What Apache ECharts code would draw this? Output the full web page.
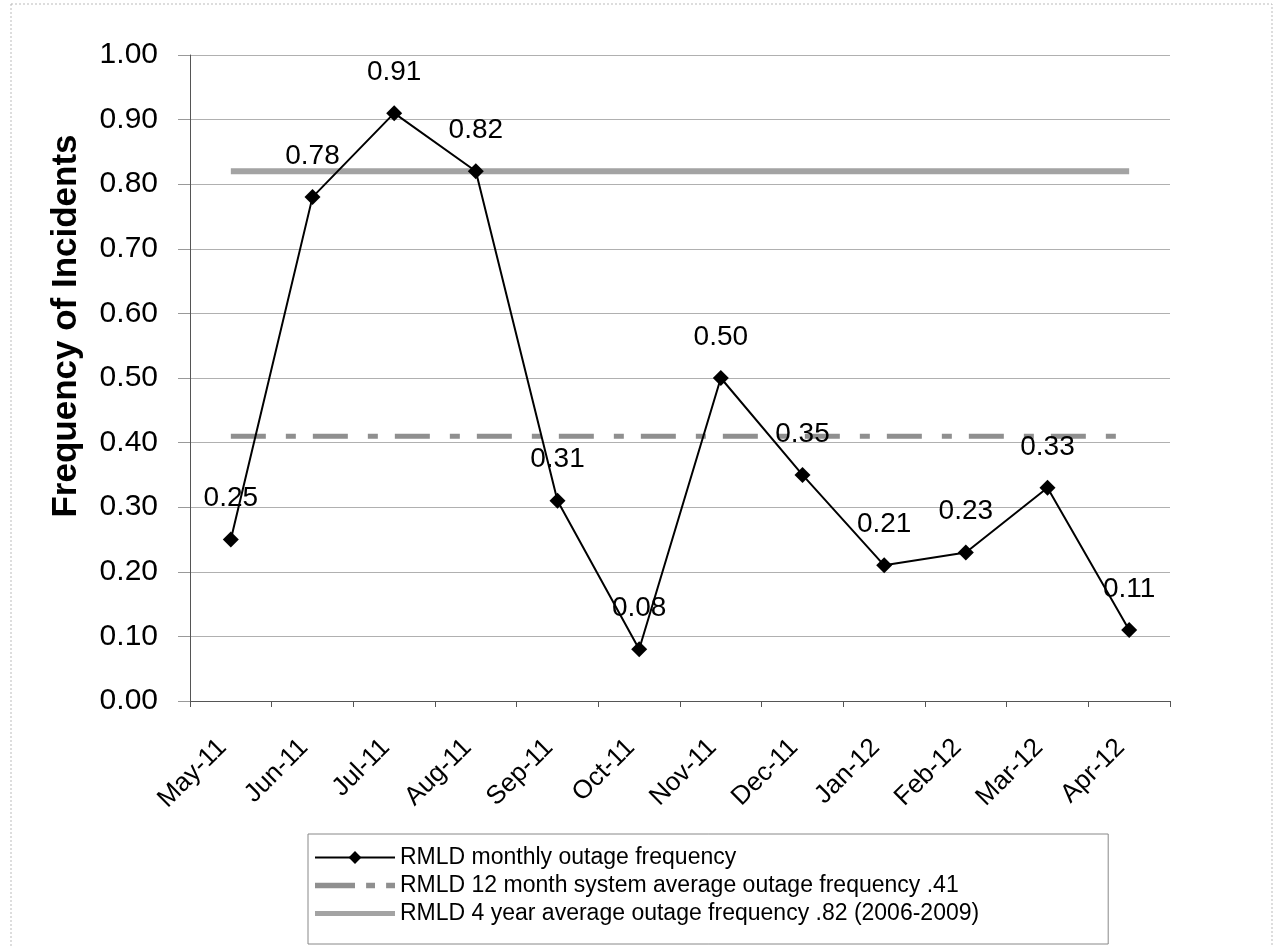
<!DOCTYPE html>
<html>
<head>
<meta charset="utf-8">
<script src="https://cdn.jsdelivr.net/npm/echarts@6/dist/echarts.min.js"></script>
<style>
  html, body { margin: 0; padding: 0; background: #fff; }
  #chart { width: 1281px; height: 946px; }
</style>
</head>
<body>
<div id="chart"></div>
<script>
// monthly values
const months = ['May-11', 'Jun-11', 'Jul-11', 'Aug-11', 'Sep-11', 'Oct-11',
                'Nov-11', 'Dec-11', 'Jan-12', 'Feb-12', 'Mar-12', 'Apr-12'];
const monthlyFreq = [0.25, 0.78, 0.91, 0.82, 0.31, 0.08, 0.50, 0.35, 0.21, 0.23, 0.33, 0.11];
const avg12Month = [0.41, 0.41, 0.41, 0.41, 0.41, 0.41, 0.41, 0.41, 0.41, 0.41, 0.41, 0.41];
const avg4Year = [0.82, 0.82, 0.82, 0.82, 0.82, 0.82, 0.82, 0.82, 0.82, 0.82, 0.82, 0.82];
const seriesNames = [
    'RMLD monthly outage frequency',
    'RMLD 12 month system average outage frequency .41',
    'RMLD 4 year average outage frequency .82 (2006-2009)'
];

function drawChart() {
    let myChart = echarts.init(document.getElementById('chart'));
    const font = 'Liberation Sans, Arial, sans-serif';

    let option = {
        backgroundColor: '#fff',
        animation: false,
        textStyle: { fontFamily: font, color: '#000' },
        graphic: [{
            type: 'rect',
            shape: { x: 11, y: 4, width: 1261, height: 960 },
            style: { fill: 'none', stroke: '#bbb', lineWidth: 1, lineDash: [2, 2] },
            silent: true
        }],
        grid: { left: 190, right: 111, top: 55, bottom: 245 },
        legend: {
            orient: 'vertical',
            left: 308,
            top: 834,
            padding: [12, 129, 19, 6],
            itemGap: 5,
            itemWidth: 80,
            itemHeight: 16,
            borderColor: '#888',
            borderWidth: 1,
            borderRadius: 0,
            textStyle: { fontSize: 23, color: '#000', fontFamily: font },
            data: [
                { name: seriesNames[0] },
                { name: seriesNames[1], icon: 'path://M0,0h36v5h-36zM46,0h8v5h-8zM64,0h8v5h-8z' },
                { name: seriesNames[2], icon: 'path://M0,0h80v5h-80z' }
            ]
        },
        xAxis: {
            type: 'category',
            data: months,
            boundaryGap: true,
            axisLine: { lineStyle: { color: '#555', width: 1 } },
            axisTick: { show: true, alignWithLabel: false, length: 6, lineStyle: { color: '#555' } },
            axisLabel: {
                rotate: 45, fontSize: 26, color: '#000', margin: 34,
                padding: [0, 12, 0, 0],
                fontFamily: font
            },
            splitLine: { show: false }
        },
        yAxis: {
            type: 'value',
            min: 0,
            max: 1,
            interval: 0.1,
            name: 'Frequency of Incidents',
            nameLocation: 'middle',
            nameGap: 106,
            nameTextStyle: {
                fontSize: 35, fontWeight: 'bold', color: '#000', fontFamily: font,
                padding: [0, 0, 0, 104]
            },
            axisLine: { show: true, lineStyle: { color: '#555', width: 1 } },
            axisTick: { show: true, length: 12, lineStyle: { color: '#999' } },
            axisLabel: {
                fontSize: 30, color: '#000', margin: 32, fontFamily: font,
                formatter: v => v.toFixed(2)
            },
            splitLine: { show: true, lineStyle: { color: '#b0b0b0', width: 1 } }
        },
        series: [
            {
                name: seriesNames[2],
                type: 'line',
                data: avg4Year,
                symbol: 'none',
                z: 1,
                lineStyle: { color: '#a3a3a3', width: 6 },
                itemStyle: { color: '#a3a3a3' }
            },
            {
                name: seriesNames[1],
                type: 'line',
                data: avg12Month,
                symbol: 'none',
                z: 1,
                lineStyle: { color: '#8f8f8f', width: 5, type: [35, 20, 10, 17] },
                itemStyle: { color: '#8f8f8f' }
            },
            {
                name: seriesNames[0],
                type: 'line',
                data: monthlyFreq,
                symbol: 'diamond',
                symbolSize: 16,
                z: 3,
                lineStyle: { color: '#000', width: 2 },
                itemStyle: { color: '#000' },
                label: {
                    show: true,
                    position: 'top',
                    distance: 19,
                    fontSize: 28,
                    color: '#000',
                    fontFamily: font,
                    formatter: p => p.value.toFixed(2)
                }
            }
        ]
    };

    myChart.setOption(option);
}

drawChart();
</script>
</body>
</html>
